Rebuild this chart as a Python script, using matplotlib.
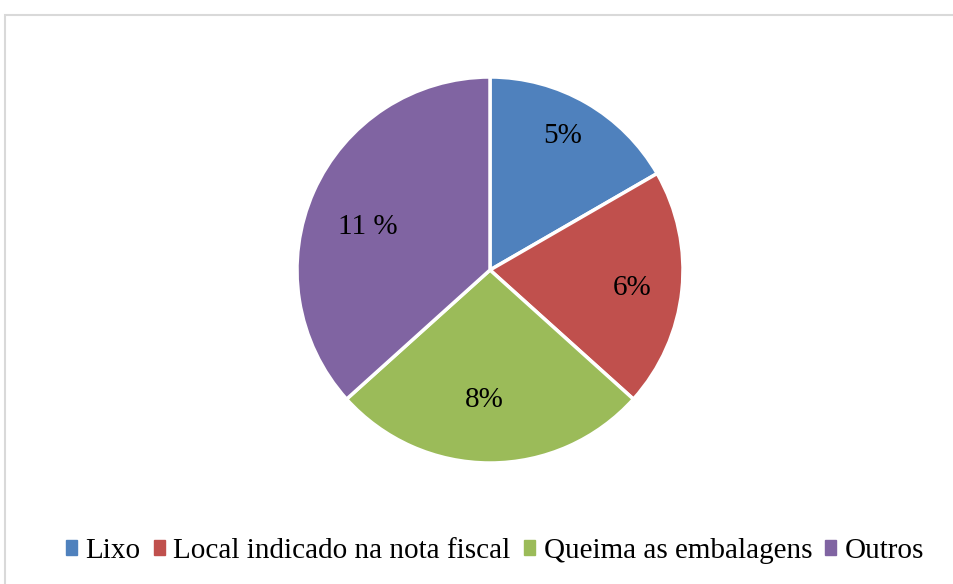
import matplotlib
matplotlib.use("Agg")
import matplotlib.pyplot as plt
import matplotlib.patches as mpatches
import numpy as np

categories = ["Lixo", "Local indicado na nota fiscal", "Queima as embalagens", "Outros"]
values = [5, 6, 8, 11]
value_labels = ["5%", "6%", "8%", "11 %"]
colors = ["#4F81BD", "#C0504D", "#9BBB59", "#8064A2"]
label_dist = [0.804, 0.740, 0.661, 0.676]
label_ang_off = [1.9, -0.2, -2.5, 3.3]

plt.rcParams['font.family'] = ['Liberation Serif', 'DejaVu Serif']

W, H = 954, 584
fig = plt.figure(figsize=(W/100, H/100), dpi=100)

# chart border
fig.patches.append(mpatches.Rectangle((5/W, -0.1), 1.1, 1 - 15/H + 0.1,
                                      transform=fig.transFigure, fill=False,
                                      edgecolor="#d9d9d9", linewidth=1.5))

cx, cy, r = 490, 270, 193
ax = fig.add_axes([(cx - r)/W, (H - cy - r)/H, 2*r/W, 2*r/H])
wedges, _ = ax.pie(values, colors=colors, startangle=90, counterclock=False,
                   wedgeprops=dict(edgecolor="white", linewidth=2.5), radius=1)
ax.set_xlim(-1, 1)
ax.set_ylim(-1, 1)
ax.set_aspect('equal')
ax.axis('off')

base_off = 9.9 / r
for w, lab, d, off in zip(wedges, value_labels, label_dist, label_ang_off):
    ang = np.deg2rad((w.theta1 + w.theta2) / 2 + off)
    ax.text(d*np.cos(ang), d*np.sin(ang) - base_off, lab, ha='center', va='baseline',
            fontsize=21, color='black')

handles = [mpatches.Patch(color=c) for c in colors]
fig.legend(handles, categories, loc='center', bbox_to_anchor=(495/W, (H - 551)/H),
           ncol=4, frameon=False, fontsize=21, handlelength=0.38, handleheight=0.38,
           handletextpad=0.3, columnspacing=0.45, borderpad=0, borderaxespad=0)

fig.savefig("out.png", dpi=100)
